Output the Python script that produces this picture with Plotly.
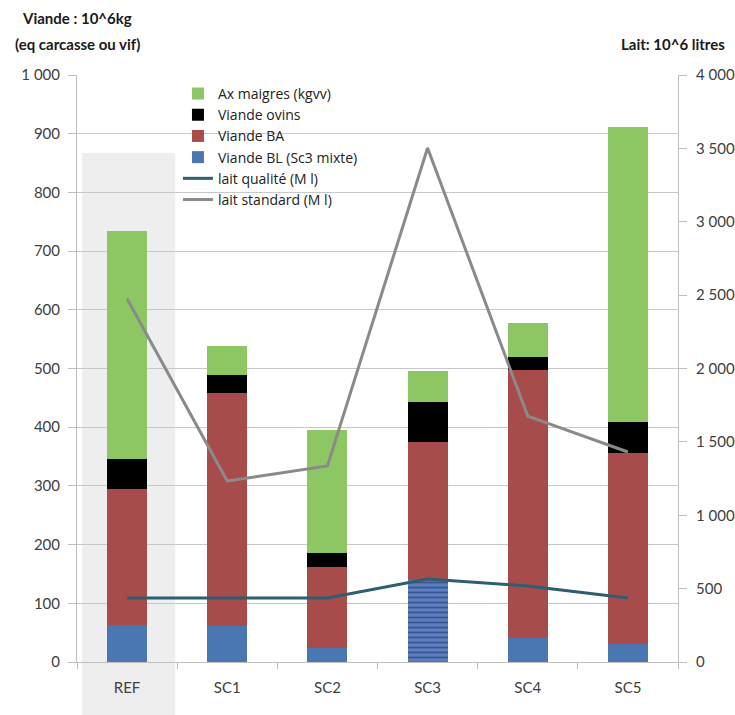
import plotly.graph_objects as go

# Scenario categories
categories = ["REF", "SC1", "SC2", "SC3", "SC4", "SC5"]

# Meat production (10^6 kg), stacked by component
viande_bl = [63, 62, 24, 140, 41, 31]
viande_ba = [232, 396, 138, 235, 456, 325]
viande_ovins = [50, 31, 24, 68, 23, 53]
ax_maigres = [390, 49, 209, 53, 58, 502]

# Milk volumes (10^6 litres), right axis
lait_qualite = [436, 436, 436, 566, 518, 436]
lait_standard = [2475, 1233, 1336, 3503, 1676, 1431]

# Pattern per bar: SC3 "mixte" bar is hatched
bl_patterns = ["", "", "", "-", "", ""]

FONT = "Lato"
AXIS_GREY = "#bfbfbf"
TEXT_GREY = "#404040"

fig = go.Figure()

fig.add_trace(go.Bar(
    x=categories, y=viande_bl, name="Viande BL (Sc3 mixte)",
    marker=dict(color="#4a77b2", line=dict(width=0),
                pattern=dict(shape=bl_patterns, fgcolor="#1f2a60",
                             bgcolor="#5b7fc0", size=5, solidity=0.35)),
    legendrank=4,
))
fig.add_trace(go.Bar(
    x=categories, y=viande_ba, name="Viande BA",
    marker=dict(color="#a84b4b", line=dict(width=0)), legendrank=3,
))
fig.add_trace(go.Bar(
    x=categories, y=viande_ovins, name="Viande ovins",
    marker=dict(color="#000000", line=dict(width=0)), legendrank=2,
))
fig.add_trace(go.Bar(
    x=categories, y=ax_maigres, name="Ax maigres (kgvv)",
    marker=dict(color="#8cc763", line=dict(width=0)), legendrank=1,
))
fig.add_trace(go.Scatter(
    x=categories, y=lait_qualite, name="lait qualité (M l)", yaxis="y2",
    mode="lines", line=dict(color="#2d5f6e", width=3), legendrank=5,
))
fig.add_trace(go.Scatter(
    x=categories, y=lait_standard, name="lait standard (M l)", yaxis="y2",
    mode="lines", line=dict(color="#8a8a8a", width=3), legendrank=6,
))

# Grey band behind the reference scenario
fig.add_shape(type="rect", xref="x", yref="paper",
              x0=-0.45, x1=0.48, y0=-0.095, y1=0.867,
              fillcolor="#eeeeee", line=dict(width=0), layer="below")

fig.update_layout(
    width=735, height=715,
    margin=dict(l=77, r=57, t=75, b=53),
    paper_bgcolor="white", plot_bgcolor="white",
    barmode="stack", bargap=0.6,
    separators=", ",
    font=dict(family=FONT, size=15, color=TEXT_GREY),
    showlegend=True,
    legend=dict(x=0.168, y=0.995, xanchor="left", yanchor="top",
                bgcolor="rgba(0,0,0,0)", traceorder="normal",
                font=dict(family="Open Sans", size=14, color="#222222"),
                itemwidth=30, tracegroupgap=0),
    xaxis=dict(showline=True, linecolor=AXIS_GREY, ticks="outside",
               tickson="boundaries", ticklen=6, tickcolor=AXIS_GREY,
               ticklabelstandoff=12, automargin=False,
               tickfont=dict(size=15, color=TEXT_GREY)),
    yaxis=dict(range=[0, 1000], dtick=100, showgrid=True, gridcolor="#c8c8c8",
               showline=True, linecolor=AXIS_GREY, ticks="outside",
               ticklen=8, tickcolor=AXIS_GREY, tickformat=",d",
               ticklabelstandoff=5, automargin=False,
               zeroline=False, tickfont=dict(size=15, color=TEXT_GREY)),
    yaxis2=dict(range=[0, 4000], dtick=500, overlaying="y", side="right",
                showgrid=False, showline=True, linecolor=AXIS_GREY,
                ticks="outside", ticklen=8, tickcolor=AXIS_GREY,
                tickformat=",d", zeroline=False, ticklabelstandoff=6,
                automargin=False,
                tickfont=dict(size=15, color=TEXT_GREY)),
)

title_font = dict(family=FONT, size=15, color="#1a1a1a")
fig.add_annotation(text="<b>Viande : 10^6kg</b>", xref="paper", yref="paper",
                   x=0.0, y=1.097, xanchor="center", yanchor="middle",
                   showarrow=False, font=title_font)
fig.add_annotation(text="<b>(eq carcasse ou vif)</b>", xref="paper", yref="paper",
                   x=0.0, y=1.053, xanchor="center", yanchor="middle",
                   showarrow=False, font=title_font)
fig.add_annotation(text="<b>Lait: 10^6 litres</b>", xref="paper", yref="paper",
                   x=1.082, y=1.053, xanchor="right", yanchor="middle",
                   showarrow=False, font=title_font)

fig.write_html("out.html")
